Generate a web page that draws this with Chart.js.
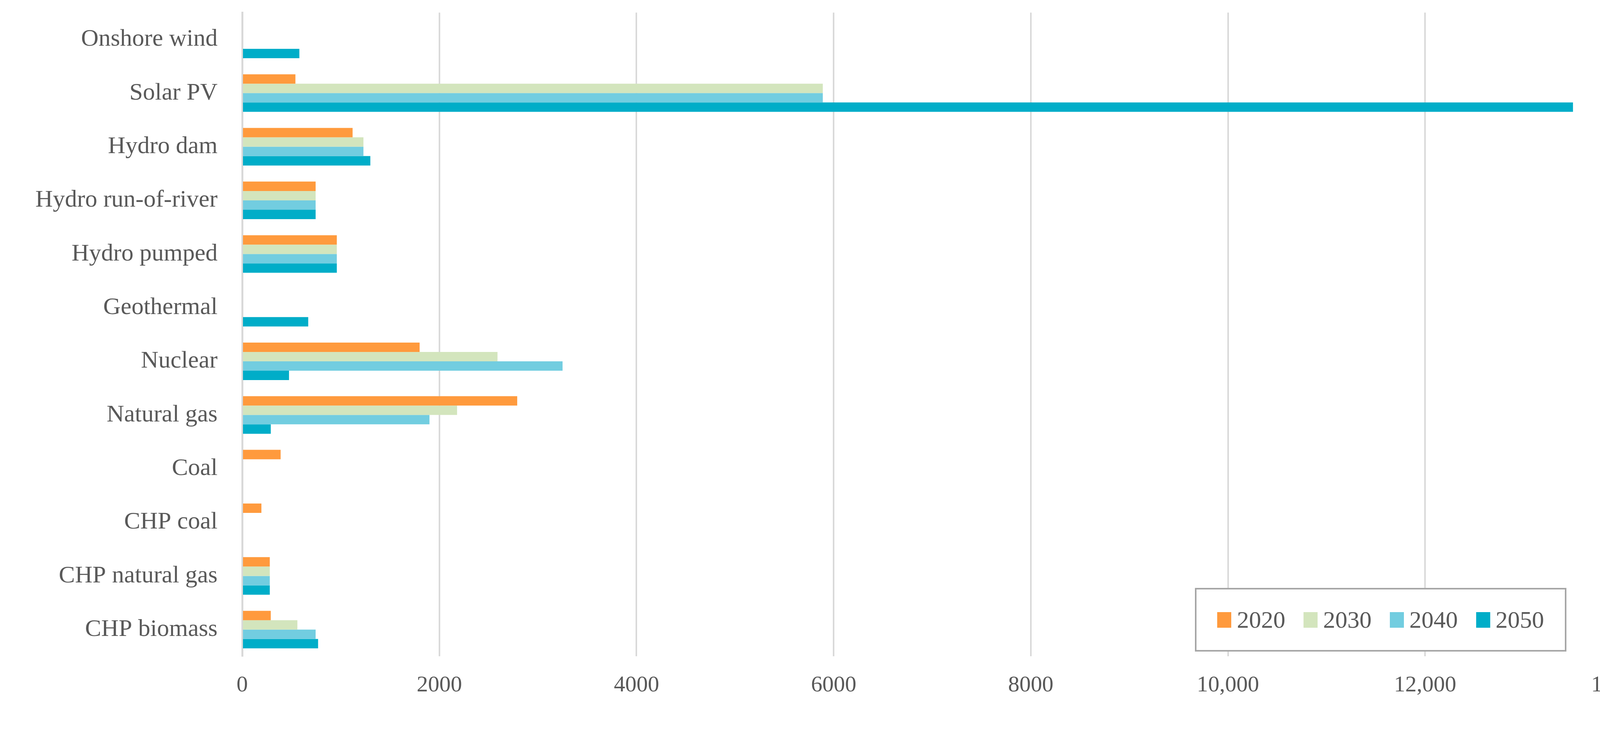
<!DOCTYPE html>
<html>
<head>
<meta charset="utf-8">
<script src="https://cdn.jsdelivr.net/npm/chart.js@4"></script>
<style>
  body { margin: 0; background: #fff; overflow: hidden; }
  #wrap { position: relative; width: 4273px; height: 1920px; overflow: hidden; }
  #myChart { position: absolute; left: 0; top: -60px; }
  #legend {
    position: absolute; left: 3059px; top: 1505px; width: 951px; height: 163px;
    border: 4px solid #a6a6a6; box-sizing: border-box; background: #fff;
    display: flex; align-items: center; justify-content: space-around;
    font-family: "Liberation Serif", "DejaVu Serif", serif; font-size: 62px; color: #595959;
    padding: 0 30px;
  }
  #legend span.sw { display: inline-block; width: 36px; height: 40px; margin-right: 14px; }
</style>
</head>
<body>
<div id="wrap">
  <canvas id="myChart" width="4273" height="1980"></canvas>
  <div id="legend"></div>
</div>
<script>
const categories = ["Onshore wind", "Solar PV", "Hydro dam", "Hydro run-of-river", "Hydro pumped",
  "Geothermal", "Nuclear", "Natural gas", "Coal", "CHP coal", "CHP natural gas", "CHP biomass"];
const years = ["2020", "2030", "2040", "2050"];
const colors = ["#ff9a3d", "#d3e5bd", "#72cde0", "#00adc8"];

const v2020 = [0, 540, 1120, 745, 960, 0, 1800, 2790, 390, 195, 280, 290];
const v2030 = [0, 5890, 1230, 745, 960, 0, 2590, 2180, 0, 0, 280, 560];
const v2040 = [0, 5890, 1230, 745, 960, 0, 3250, 1900, 0, 0, 280, 745];
const v2050 = [580, 13500, 1300, 745, 960, 670, 475, 290, 0, 0, 280, 770];
const xTicks = [0, 2000, 4000, 6000, 8000, 10000, 12000, 14000];

const series = [v2020, v2030, v2040, v2050];
const font = "'Liberation Serif', 'DejaVu Serif', serif";

let legendHtml = "";
years.forEach((y, i) => {
  legendHtml += `<div><span class="sw" style="background:${colors[i]}"></span>${y}</div>`;
});
document.getElementById("legend").innerHTML = legendHtml;

let ctx = document.getElementById("myChart");
new Chart(ctx, {
  type: "bar",
  data: {
    labels: categories,
    datasets: years.map((y, i) => ({
      label: y,
      data: series[i],
      backgroundColor: colors[i],
      categoryPercentage: 0.7,
      barPercentage: 1.0,
    })),
  },
  options: {
    indexAxis: "y",
    responsive: false,
    devicePixelRatio: 1,
    animation: false,
    layout: { padding: { top: 50, right: 20, left: 20, bottom: 90 } },
    plugins: { legend: { display: false }, tooltip: { enabled: false } },
    scales: {
      x: {
        min: 0,
        max: 14000,
        afterBuildTicks: (axis) => { axis.ticks = xTicks.map((v) => ({ value: v })); },
        afterFit: (axis) => { axis.paddingRight = 120; },
        ticks: {
          color: "#595959",
          font: { family: font, size: 58 },
          padding: 40,
          callback: (v) => (v >= 10000 ? v.toLocaleString("en-US") : String(v)),
        },
        grid: { color: "#d9d9d9", lineWidth: 4, drawTicks: false },
        border: { display: false },
      },
      y: {
        afterFit: (axis) => { axis.width = 600; },
        ticks: {
          color: "#595959",
          font: { family: font, size: 62 },
          padding: 55,
        },
        grid: { display: false },
        border: { color: "#d9d9d9", width: 5 },
      },
    },
  },
});
</script>
</body>
</html>
